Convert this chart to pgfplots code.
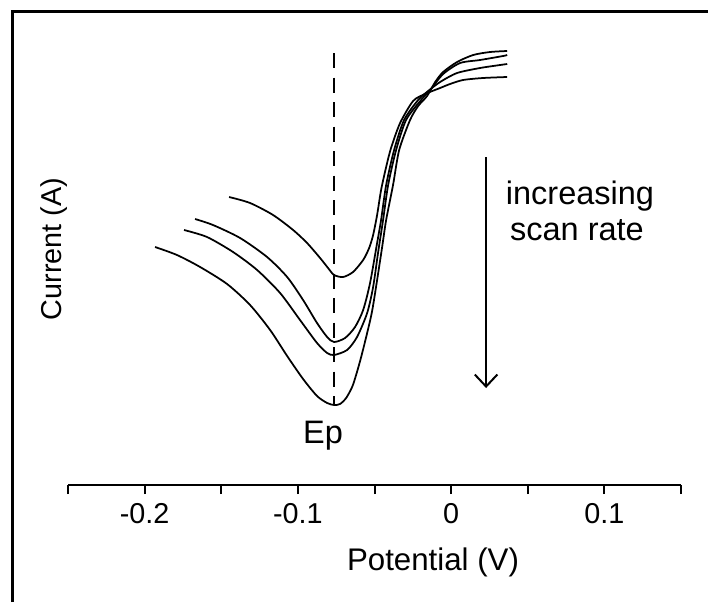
\documentclass[border=0pt]{standalone}
\usepackage{pgfplots}
\pgfplotsset{compat=1.18}
\usepackage{fontspec}
\setmainfont{Liberation Sans}
\usetikzlibrary{arrows.meta}

\begin{document}
\begin{tikzpicture}
\useasboundingbox (0pt,0pt) rectangle (283.2pt,240.8pt);
% frame (left and top only)
\draw[line width=1.2pt] (4.8pt,0pt) -- (4.8pt,236pt) -- (283.2pt,236pt);

\begin{axis}[
  at={(27.2pt,46.8pt)}, anchor=south west,
  scale only axis, width=245.2pt, height=188.8pt,
  xmin=-0.25, xmax=0.15, ymin=0, ymax=472,
  axis x line*=bottom, axis y line=none,
  x axis line style={-, line width=0.8pt},
  xtick={-0.25,-0.2,-0.15,-0.1,-0.05,0,0.05,0.1,0.15},
  xticklabels={},
  tick align=outside, major tick length=3.6pt,
  xtick style={line width=0.8pt, black},
  clip=false,
  cv/.style={black, no markers, line width=0.7pt, smooth, tension=0.45},
]
% lowest scan rate
\addplot[cv] coordinates {
(-0.1449,288) (-0.1312,282) (-0.1162,270) (-0.1031,255) (-0.0940,242)
(-0.0855,227) (-0.0803,217) (-0.0764,210) (-0.0705,208) (-0.0640,213)
(-0.0574,225) (-0.0535,237) (-0.0509,250) (-0.0483,270) (-0.0457,295)
(-0.0424,318) (-0.0392,337) (-0.0333,362) (-0.0248,384) (-0.0170,391)
(-0.0072,397) (-0.0007,401) (0.0078,405) (0.0209,407) (0.0366,408)};
\addplot[cv] coordinates {
(-0.1671,266) (-0.1554,260) (-0.1377,247) (-0.1201,228) (-0.1070,208)
(-0.0966,185) (-0.0875,162) (-0.0809,148) (-0.0764,143) (-0.0692,147)
(-0.0627,158) (-0.0574,175) (-0.0529,202) (-0.0483,242) (-0.0457,265)
(-0.0424,300) (-0.0372,335) (-0.0307,365) (-0.0215,385) (-0.0150,394)
(-0.0072,403) (0.0039,412) (0.0189,417) (0.0320,420) (0.0366,421)};
\addplot[cv] coordinates {
(-0.1743,255) (-0.1593,248) (-0.1423,233) (-0.1266,215) (-0.1116,192)
(-0.0986,165) (-0.0875,142) (-0.0809,132) (-0.0764,130) (-0.0679,135)
(-0.0614,148) (-0.0548,172) (-0.0509,198) (-0.0477,232) (-0.0444,265)
(-0.0411,300) (-0.0359,335) (-0.0294,365) (-0.0196,385) (-0.0137,395)
(-0.0052,411) (0.0059,422) (0.0189,425) (0.0339,429) (0.0366,430)};
% highest scan rate
\addplot[cv] coordinates {
(-0.1932,238) (-0.1789,230) (-0.1638,218) (-0.1462,201) (-0.1312,180)
(-0.1181,155) (-0.1070,129) (-0.0966,106) (-0.0875,89) (-0.0809,82)
(-0.0764,80) (-0.0725,81) (-0.0685,87) (-0.0646,98) (-0.0620,110)
(-0.0587,128) (-0.0548,152) (-0.0512,177) (-0.0454,234) (-0.0424,265)
(-0.0379,300) (-0.0339,335) (-0.0268,365) (-0.0215,379) (-0.0157,389)
(-0.0104,403) (-0.0052,413) (0.0039,423) (0.0144,430) (0.0255,433)
(0.0366,434)};
% Ep marker line
\addplot[black, no markers, sharp plot, line width=1pt, dash pattern=on 6pt off 3.8pt] coordinates {(-0.0764,432) (-0.0764,80)};
% arrow
\draw[line width=0.8pt, -{Straight Barb[length=4.8pt,width=9pt]}] (axis cs:0.0228,328) -- (axis cs:0.0228,97);
% tick labels
\node[anchor=base, inner sep=0pt, font=\fontsize{11.5}{13}\selectfont] at (axis cs:-0.2,-38) {-0.2};
\node[anchor=base, inner sep=0pt, font=\fontsize{11.5}{13}\selectfont] at (axis cs:-0.1,-38) {-0.1};
\node[anchor=base, inner sep=0pt, font=\fontsize{11.5}{13}\selectfont] at (axis cs:0,-38) {0};
\node[anchor=base, inner sep=0pt, font=\fontsize{11.5}{13}\selectfont] at (axis cs:0.1,-38) {0.1};
\end{axis}

\node[anchor=base, font=\fontsize{13}{15}\selectfont, inner sep=0pt] at (129.2pt,63.2pt) {Ep};
\node[anchor=base, font=\fontsize{13}{15}\selectfont, inner sep=0pt] at (232pt,158.8pt) {increasing};
\node[anchor=base, font=\fontsize{13}{15}\selectfont, inner sep=0pt] at (230.8pt,144.4pt) {scan rate};
\node[anchor=base, font=\fontsize{12.5}{15}\selectfont, inner sep=0pt] at (173.2pt,12.8pt) {Potential (V)};
\node[anchor=base, rotate=90, font=\fontsize{11.5}{14}\selectfont, inner sep=0pt] at (24.8pt,141.2pt) {Current (A)};
\end{tikzpicture}
\end{document}
